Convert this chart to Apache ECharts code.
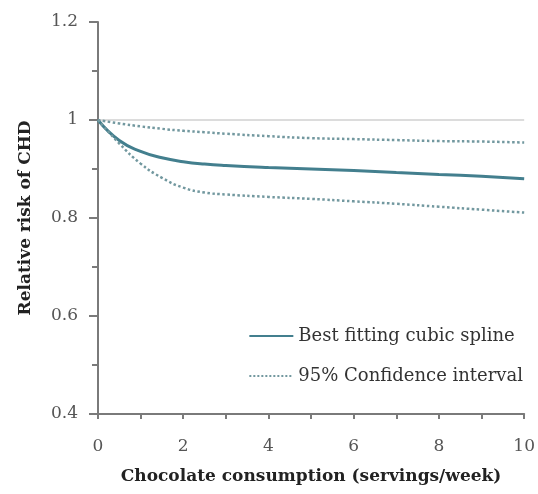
<!DOCTYPE html>
<html>
<head>
<meta charset="utf-8">
<script src="https://cdn.jsdelivr.net/npm/echarts@6/dist/echarts.min.js"></script>
<style>
  html, body { margin: 0; padding: 0; background: #fff; }
  #chart { width: 538px; height: 494px; }
</style>
</head>
<body>
<div id="chart"></div>
<script>
// servings per week
var xs = [0, 0.5, 1, 1.5, 2, 2.5, 3, 4, 5, 6, 7, 8, 9, 10]
// relative risk
var spline = [1, 0.958, 0.936, 0.923, 0.915, 0.910, 0.907, 0.903, 0.900, 0.897, 0.893, 0.889, 0.885, 0.880]
var upperCI = [1, 0.993, 0.987, 0.982, 0.978, 0.975, 0.972, 0.967, 0.963, 0.961, 0.959, 0.957, 0.956, 0.954]
var lowerCI = [1, 0.952, 0.911, 0.882, 0.862, 0.852, 0.848, 0.843, 0.839, 0.834, 0.829, 0.823, 0.817, 0.811]

var serif = '"DejaVu Serif", "Liberation Serif", serif'
var axisColor = '#7a7a7a'

function pairs(ys) {
  return xs.map((x, i) => [x, ys[i]])
}

var chart = echarts.init(document.getElementById('chart'))
var option = {
  animation: false,
  grid: { left: 98, right: 12, top: 22, bottom: 80 },
  legend: {
    orient: 'vertical',
    right: 10,
    top: 322,
    itemWidth: 44,
    itemHeight: 12,
    itemGap: 22,
    data: ['Best fitting cubic spline', '95% Confidence interval'],
    itemStyle: { opacity: 0 },
    textStyle: { fontFamily: serif, fontSize: 18, color: '#333' }
  },
  xAxis: {
    type: 'value',
    min: 0,
    max: 10,
    interval: 2,
    name: 'Chocolate consumption (servings/week)',
    nameLocation: 'middle',
    nameGap: 54,
    nameTextStyle: { fontFamily: serif, fontSize: 17, fontWeight: 'bold', color: '#222' },
    axisLine: { lineStyle: { color: axisColor, width: 2 } },
    axisTick: { length: 5, lineStyle: { color: axisColor, width: 2 } },
    minorTick: { show: true, splitNumber: 2, length: 5, lineStyle: { color: axisColor, width: 2 } },
    axisLabel: { fontFamily: serif, fontSize: 17, color: '#555', margin: 24 },
    splitLine: { show: false }
  },
  yAxis: {
    type: 'value',
    min: 0.4,
    max: 1.2,
    interval: 0.2,
    name: 'Relative risk of CHD',
    nameLocation: 'middle',
    nameGap: 64,
    nameTextStyle: { fontFamily: serif, fontSize: 17, fontWeight: 'bold', color: '#222' },
    axisLine: { show: true, lineStyle: { color: axisColor, width: 2 } },
    axisTick: { show: true, length: 9, lineStyle: { color: axisColor, width: 2 } },
    minorTick: { show: true, splitNumber: 2, length: 6, lineStyle: { color: axisColor, width: 2 } },
    axisLabel: { fontFamily: serif, fontSize: 17, color: '#555', margin: 20 },
    splitLine: { show: false }
  },
  series: [
    {
      name: 'Best fitting cubic spline',
      type: 'line',
      smooth: true,
      showSymbol: false,
      symbol: 'none',
      z: 3,
      data: pairs(spline),
      color: '#437f8e',
      lineStyle: { color: '#437f8e', width: 3 },
      markLine: {
        silent: true,
        symbol: 'none',
        label: { show: false },
        lineStyle: { color: '#dcdcdc', width: 2, type: 'solid' },
        data: [{ yAxis: 1 }],
        z: 1
      }
    },
    {
      name: '95% Confidence interval',
      type: 'line',
      smooth: true,
      showSymbol: false,
      symbol: 'none',
      data: pairs(upperCI),
      color: '#72989f',
      lineStyle: { color: '#72989f', width: 2.5, type: 'dotted' }
    },
    {
      name: '95% Confidence interval',
      type: 'line',
      smooth: true,
      showSymbol: false,
      symbol: 'none',
      data: pairs(lowerCI),
      color: '#72989f',
      lineStyle: { color: '#72989f', width: 2.5, type: 'dotted' }
    }
  ]
}
chart.setOption(option)
</script>
</body>
</html>
